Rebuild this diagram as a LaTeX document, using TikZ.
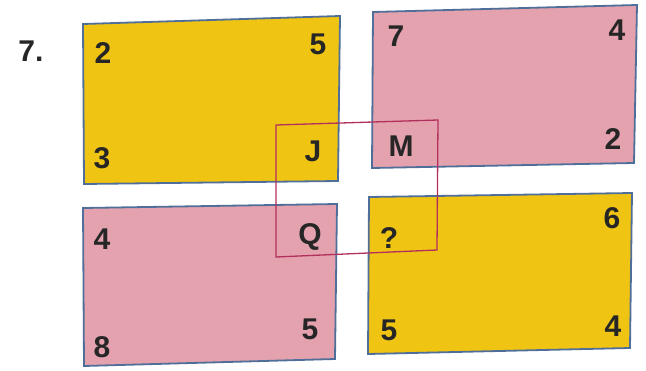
\documentclass[tikz,border=0pt]{standalone}
\usepackage{fontspec}
\setmainfont{Liberation Sans}
\definecolor{cardyellow}{HTML}{F0C413}
\definecolor{cardpink}{HTML}{E4A2AE}
\definecolor{cardedge}{HTML}{4F6E9A}
\definecolor{markline}{HTML}{B2305C}
\begin{document}
\begin{tikzpicture}[x=1pt,y=-1pt,
  card/.style={draw=cardedge,line width=1.8pt},
  lbl/.style={font=\fontsize{30}{30}\selectfont\bfseries,text=black!85,inner sep=0pt},
  frame/.style={draw=markline,line width=1.3pt}]
\useasboundingbox (0,0) rectangle (646,370);
% cards
\draw[card,fill=cardyellow] (83,24) -- (340,16) -- (338,181) -- (84,184) -- cycle;
\draw[card,fill=cardpink] (373,12) -- (637,5) -- (634,163) -- (372,168) -- cycle;
\draw[card,fill=cardpink] (83,208) -- (337,204) -- (335,359) -- (84,366) -- cycle;
\draw[card,fill=cardyellow] (369,197) -- (632,193) -- (630,348) -- (368,354) -- cycle;
% highlight square
\draw[frame] (276,125) -- (438,120) -- (437,250) -- (276,257) -- cycle;
% labels
\node[lbl] (q7) at (31,51) {7.};
\node[lbl] (a1) at (103,53) {2};
\node[lbl] (a2) at (318,44) {5};
\node[lbl] (a3) at (102,158) {3};
\node[lbl] (a4) at (313,151) {J};
\node[lbl] (b1) at (396,36) {7};
\node[lbl] (b2) at (617,30) {4};
\node[lbl] (b3) at (401,146) {M};
\node[lbl] (b4) at (613,139) {2};
\node[lbl] (c1) at (102,239) {4};
\node[lbl] (c2) at (310,237) {Q};
\node[lbl] (c3) at (102,347) {8};
\node[lbl] (c4) at (310,329) {5};
\node[lbl] (d1) at (389,238) {?};
\node[lbl] (d2) at (612,218) {6};
\node[lbl] (d3) at (389,330) {5};
\node[lbl] (d4) at (613,326) {4};
\end{tikzpicture}
\end{document}
